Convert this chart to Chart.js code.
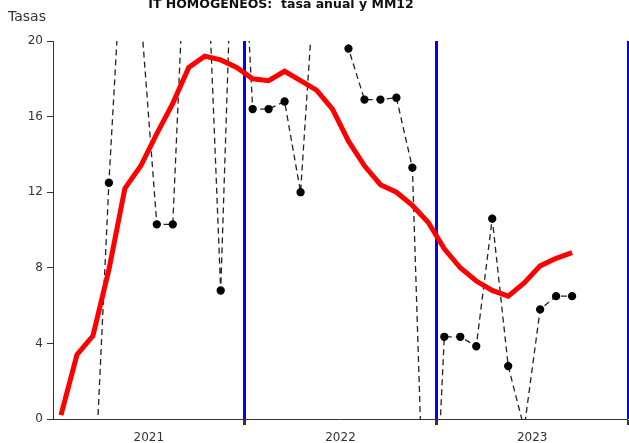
<!DOCTYPE html>
<html>
<head>
<meta charset="utf-8">
<script src="https://cdn.jsdelivr.net/npm/chart.js@4.4.0/dist/chart.umd.min.js"></script>
<style>
  html, body { margin: 0; padding: 0; background: #fff; overflow: hidden; }
</style>
</head>
<body>
<canvas id="myChart" width="634" height="443"></canvas>
<script>
// months Jan 2021 .. Sep 2023
let months = ['E21','F21','M21','A21','M21','J21','J21','A21','S21','O21','N21','D21',
              'E22','F22','M22','A22','M22','J22','J22','A22','S22','O22','N22','D22',
              'E23','F23','M23','A23','M23','J23','J23','A23','S23'];
let years = ['2021', '2022', '2023'];

// MM12 (red)
let mm12 = [0.2, 3.4, 4.4, 7.9, 12.2, 13.4, 15.1, 16.7, 18.6, 19.2, 19.0, 18.6,
            18.0, 17.9, 18.4, 17.9, 17.4, 16.4, 14.7, 13.4, 12.4, 12.0, 11.3, 10.4,
            9.0, 8.0, 7.3, 6.8, 6.5, 7.2, 8.1, 8.5, 8.8];

// tasa anual (black dashed)
let tasa = [null, null, -5.6, 12.5, 27.5, 21.4, 10.3, 10.3, 29.7, 27.9, 6.8, 33.0,
            16.4, 16.4, 16.8, 12.0, 24.8, 40.0, 19.6, 16.9, 16.9, 17.0, 13.3, -13.3,
            4.35, 4.35, 3.85, 10.6, 2.8, -0.5, 5.8, 6.5, 6.5];

let yTicks = [0, 4, 8, 12, 16, 20];

let toXY = arr => arr.map((v, i) => ({ x: i, y: v }));

let textPlugin = {
  id: 'texts',
  afterDraw(chart) {
    let c = chart.ctx;
    c.save();
    c.fillStyle = '#111';
    c.font = 'bold 12.5px "DejaVu Sans"';
    c.textAlign = 'center';
    c.textBaseline = 'alphabetic';
    c.fillText('IT HOMOGENEOS:  tasa anual y MM12', 281, 8);
    c.fillStyle = '#333';
    c.font = '14px "DejaVu Sans"';
    c.textAlign = 'left';
    c.fillText('Tasas', 8, 21);
    c.restore();
  }
};

let isBoundary = v => Math.abs(((v + 0.5) % 12)) < 0.01;

let ctx = document.getElementById('myChart').getContext('2d');
let chart = new Chart(ctx, {
  type: 'line',
  data: {
    datasets: [
      {
        label: 'MM12',
        data: toXY(mm12),
        borderColor: '#ff0000',
        borderWidth: 5,
        pointRadius: 0,
        tension: 0,
        order: 0
      },
      {
        label: 'Tasa anual',
        data: toXY(tasa),
        borderColor: '#222',
        borderWidth: 1.3,
        borderDash: [6, 4],
        pointRadius: 3.5,
        pointBackgroundColor: '#000',
        pointBorderColor: '#000',
        spanGaps: false,
        clip: 0,
        order: 1
      }
    ]
  },
  plugins: [textPlugin],
  options: {
    responsive: false,
    animation: false,
    layout: { padding: { top: 41, right: 0, left: 0, bottom: 0 } },
    plugins: {
      legend: { display: false },
      tooltip: { enabled: false },
      title: { display: false }
    },
    scales: {
      x: {
        type: 'linear',
        min: -0.5,
        max: 35.5,
        afterBuildTicks: s => {
          s.ticks = [5.5, 11.5, 17.5, 23.5, 29.5, 35.5].map(v => ({ value: v }));
        },
        afterFit: s => { s.height = 24; },
        ticks: {
          autoSkip: false,
          maxRotation: 0,
          padding: 6,
          color: '#333',
          font: { family: 'DejaVu Sans', size: 12 },
          callback: v => isBoundary(v) ? '' : years[Math.floor(v / 12)]
        },
        grid: {
          drawOnChartArea: true,
          color: c => isBoundary(c.tick.value) ? '#0000ff' : 'rgba(0,0,0,0)',
          lineWidth: c => isBoundary(c.tick.value) ? 3 : 0,
          tickColor: c => isBoundary(c.tick.value) ? '#333' : 'rgba(0,0,0,0)',
          tickLength: 6
        },
        border: { color: '#333', width: 1 }
      },
      y: {
        min: 0,
        max: 20,
        afterBuildTicks: s => { s.ticks = yTicks.map(v => ({ value: v })); },
        afterFit: s => { s.width = 53; },
        ticks: {
          padding: 4,
          color: '#333',
          font: { family: 'DejaVu Sans', size: 12 }
        },
        grid: {
          drawOnChartArea: false,
          tickColor: '#333',
          tickLength: 6
        },
        border: { color: '#333', width: 1 }
      }
    }
  }
});
</script>
</body>
</html>
